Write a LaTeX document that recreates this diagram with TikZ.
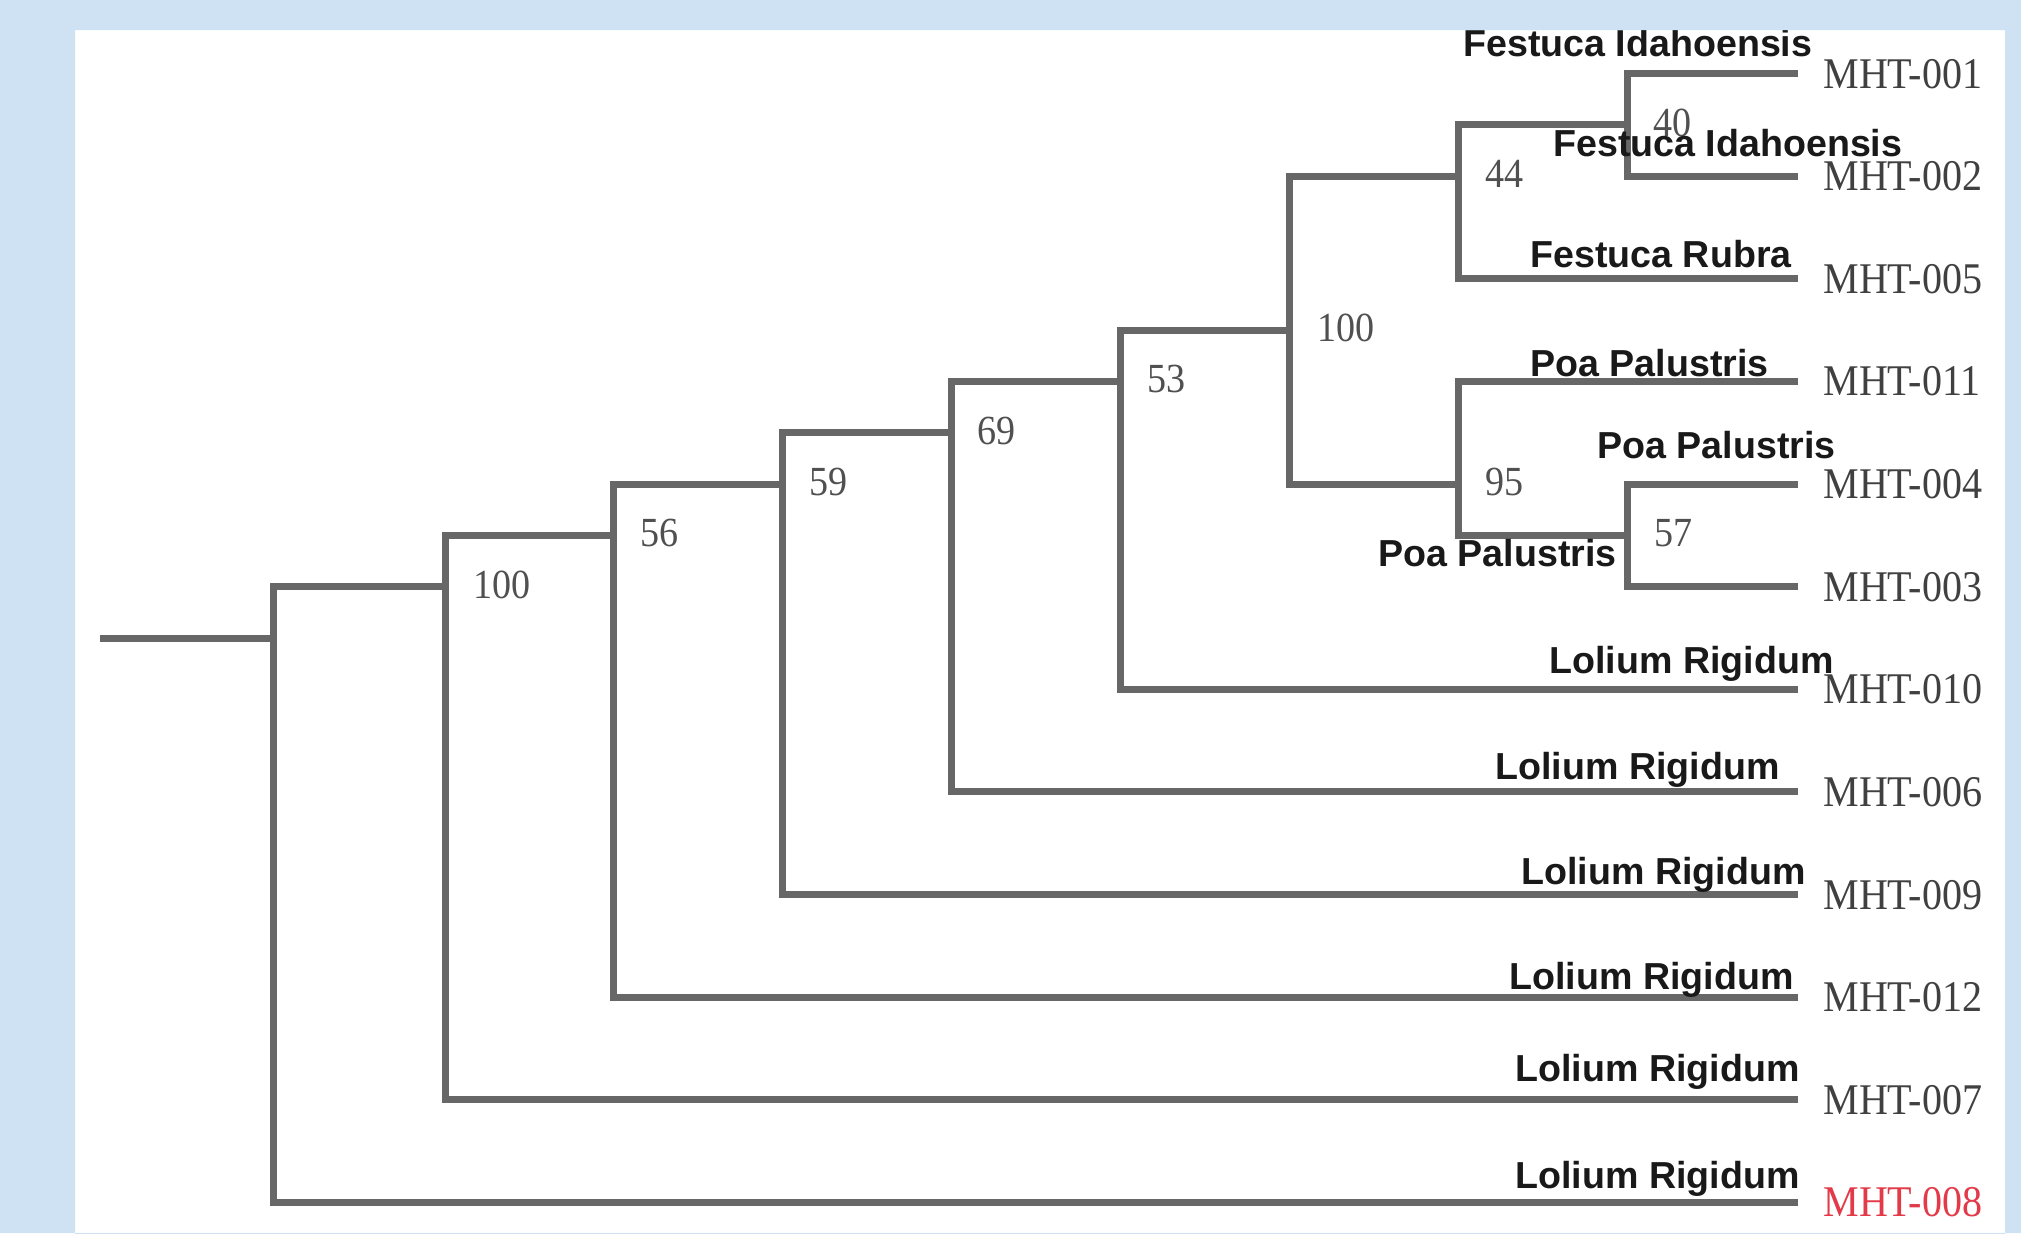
\documentclass[tikz,border=0pt]{standalone}
\usepackage{fontspec}
\setmainfont{Liberation Serif}
\newfontfamily\spfont{Liberation Sans}
\definecolor{bgblue}{HTML}{CFE2F3}
\definecolor{branch}{HTML}{676767}
\definecolor{idgray}{HTML}{404040}
\definecolor{numgray}{HTML}{505050}
\definecolor{idred}{HTML}{E23A48}
\tikzset{
  branchline/.style={draw=branch, line width=3.5pt, line join=miter, line cap=rect},
  num/.style={inner sep=0pt, anchor=west, text=numgray, font=\fontsize{20.7pt}{24pt}\selectfont},
  idlab/.style={inner sep=0pt, anchor=base west, text=idgray, font=\fontsize{21.9pt}{25pt}\selectfont},
  splab/.style={inner sep=0pt, anchor=base west, text=black!90, font=\spfont\bfseries\fontsize{18.8pt}{22pt}\selectfont},
}
\newcommand{\idtxt}[1]{\scalebox{0.915}[1]{#1}}
\newcommand{\numtxt}[1]{\scalebox{0.92}[1]{#1}}
\begin{document}
\begin{tikzpicture}[x=0.5pt,y=-0.5pt]
\useasboundingbox (0,0) rectangle (2021,1233);
\fill[white] (0,0) rectangle (2021,1233);
% leaves
\coordinate (L0) at (1794,73.5);
\coordinate (L1) at (1794,176.13);
\coordinate (L2) at (1794,278.76);
\coordinate (L3) at (1794,381.39);
\coordinate (L4) at (1794,484.02);
\coordinate (L5) at (1794,586.65);
\coordinate (L6) at (1794,689.28);
\coordinate (L7) at (1794,791.91);
\coordinate (L8) at (1794,894.54);
\coordinate (L9) at (1794,997.17);
\coordinate (L10) at (1794,1099.8);
\coordinate (L11) at (1794,1202.43);
% internal nodes
\coordinate (n40) at (1627,124.8);
\coordinate (n44) at (1458,176.13);
\coordinate (n57) at (1627,535.3);
\coordinate (n95) at (1458,484.02);
\coordinate (n100b) at (1289,330.1);
\coordinate (n53) at (1120,381.39);
\coordinate (n69) at (951,432.7);
\coordinate (n59) at (782,484.02);
\coordinate (n56) at (613.5,535.3);
\coordinate (n100a) at (445,586.65);
\coordinate (root) at (273,638);
\coordinate (stem) at (103,638);
% branches
\draw[branchline] (L0) -| (n40) |- (L1);
\draw[branchline] (n40) -| (n44) |- (L2);
\draw[branchline] (L4) -| (n57) |- (L5);
\draw[branchline] (L3) -| (n95) |- (n57);
\draw[branchline] (n44) -| (n100b) |- (n95);
\draw[branchline] (n100b) -| (n53) |- (L6);
\draw[branchline] (n53) -| (n69) |- (L7);
\draw[branchline] (n69) -| (n59) |- (L8);
\draw[branchline] (n59) -| (n56) |- (L9);
\draw[branchline] (n56) -| (n100a) |- (L10);
\draw[branchline] (n100a) -| (root) |- (L11);
\draw[branchline] (stem) -- (root);
% support values
\node[num] (b40) at ([xshift=13pt,yshift=1pt]n40) {\numtxt{40}};
\node[num] (b44) at ([xshift=13.5pt,yshift=1pt]n44) {\numtxt{44}};
\node[num] (b57) at ([xshift=13.5pt,yshift=1pt]n57) {\numtxt{57}};
\node[num] (b95) at ([xshift=13.5pt,yshift=1pt]n95) {\numtxt{95}};
\node[num] (b100b) at ([xshift=14pt,yshift=1pt]n100b) {\numtxt{100}};
\node[num] (b53) at ([xshift=13.5pt,yshift=1pt]n53) {\numtxt{53}};
\node[num] (b69) at ([xshift=13pt,yshift=1pt]n69) {\numtxt{69}};
\node[num] (b59) at ([xshift=13.5pt,yshift=1pt]n59) {\numtxt{59}};
\node[num] (b56) at ([xshift=13.5pt,yshift=1pt]n56) {\numtxt{56}};
\node[num] (b100a) at ([xshift=14pt,yshift=1pt]n100a) {\numtxt{100}};
% sample ids
\node[idlab] (m0) at (1823,88) {\idtxt{MHT-001}};
\node[idlab] (m1) at (1823,190.63) {\idtxt{MHT-002}};
\node[idlab] (m2) at (1823,293.26) {\idtxt{MHT-005}};
\node[idlab] (m3) at (1823,395.89) {\idtxt{MHT-011}};
\node[idlab] (m4) at (1823,498.52) {\idtxt{MHT-004}};
\node[idlab] (m5) at (1823,601.15) {\idtxt{MHT-003}};
\node[idlab] (m6) at (1823,703.78) {\idtxt{MHT-010}};
\node[idlab] (m7) at (1823,806.41) {\idtxt{MHT-006}};
\node[idlab] (m8) at (1823,909.04) {\idtxt{MHT-009}};
\node[idlab] (m9) at (1823,1011.67) {\idtxt{MHT-012}};
\node[idlab] (m10) at (1823,1114.3) {\idtxt{MHT-007}};
\node[idlab, text=idred] (m11) at (1823,1216.93) {\idtxt{MHT-008}};
% species names
\node[splab] (s0) at (1463,56) {Festuca Idahoensis};
\node[splab] (s1) at (1553,156) {Festuca Idahoensis};
\node[splab] (s2) at (1530,267) {Festuca Rubra};
\node[splab] (s3) at (1530,376) {Poa Palustris};
\node[splab] (s4) at (1597,458) {Poa Palustris};
\node[splab] (s5) at (1378,566) {Poa Palustris};
\node[splab] (s6) at (1549,673) {Lolium Rigidum};
\node[splab] (s7) at (1495,779) {Lolium Rigidum};
\node[splab] (s8) at (1521,884) {Lolium Rigidum};
\node[splab] (s9) at (1509,989) {Lolium Rigidum};
\node[splab] (s10) at (1515,1081) {Lolium Rigidum};
\node[splab] (s11) at (1515,1188) {Lolium Rigidum};
% blue frame around the white panel
\fill[bgblue, even odd rule] (0,0) rectangle (2021,1233) (75,30) rectangle (2005,1240);
\end{tikzpicture}
\end{document}
